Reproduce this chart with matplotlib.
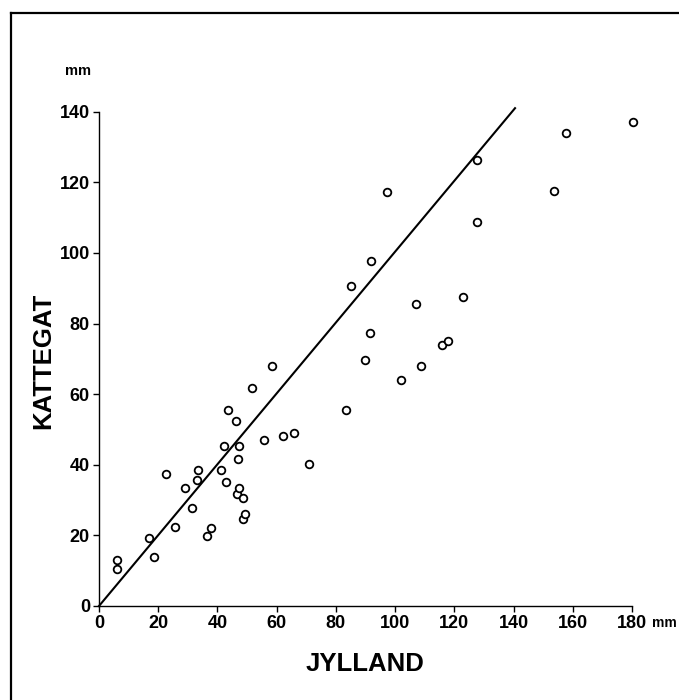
import matplotlib
matplotlib.use("Agg")
import matplotlib.pyplot as plt
from matplotlib.lines import Line2D

# maalinger (mm)
jylland = [6.0, 6.0, 16.8, 18.7, 22.5, 25.6, 29.1, 31.4, 33.0, 33.6, 36.6, 37.9,
           41.2, 42.3, 43.0, 43.4, 46.4, 46.5, 46.9, 47.2, 47.4, 48.7, 48.5, 49.3,
           51.6, 55.7, 58.3, 62.3, 65.9, 70.8, 83.3, 85.1, 89.8, 91.5, 91.7, 97.4,
           102.1, 107.2, 108.8, 115.8, 117.7, 122.8, 127.5, 127.8, 153.5, 157.8, 180.3]
kattegat = [13.0, 10.6, 19.3, 13.9, 37.3, 22.4, 33.4, 27.7, 35.8, 38.6, 19.8, 22.1,
            38.6, 45.4, 35.2, 55.4, 52.5, 31.8, 41.6, 33.5, 45.3, 30.5, 24.6, 26.1,
            61.8, 47.0, 67.9, 48.2, 48.9, 40.2, 55.5, 90.7, 69.7, 77.3, 97.7, 117.2,
            64.1, 85.6, 68.1, 74.0, 75.0, 87.5, 126.2, 108.8, 117.5, 133.9, 137.2]
linje_x = [0, 140.5]
linje_y = [0, 141.0]
xticks = list(range(0, 181, 20))
yticks = list(range(0, 141, 20))

plt.rcParams['font.family'] = ['Liberation Sans', 'DejaVu Sans']
plt.rcParams['font.weight'] = 'bold'

W, H = 679, 700
fig = plt.figure(figsize=(W/100, H/100), dpi=100)
ax = fig.add_axes([99/W, 1-606/H, (632-99)/W, (606-111.7)/H])

ax.plot(linje_x, linje_y, '-', color='black', lw=1.5, clip_on=False)
ax.plot(jylland, kattegat, 'o', mfc='white', mec='black', ms=5.5, mew=1.3, clip_on=False)

ax.set_xlim(0, 180)
ax.set_ylim(0, 140)
ax.set_xticks(xticks)
ax.set_yticks(yticks)
ax.tick_params(labelsize=13, length=4, width=1, pad=2.5)
for lab in ax.get_xticklabels() + ax.get_yticklabels():
    lab.set_fontweight('bold')
for s in ['top', 'right']:
    ax.spines[s].set_visible(False)
for s in ['left', 'bottom']:
    ax.spines[s].set_linewidth(1.0)

ax.set_xlabel("JYLLAND", fontsize=18.5, fontweight='bold', va='center')
ax.xaxis.set_label_coords(0.5, -(664-606)/(606-111.7))
ax.set_ylabel("KATTEGAT", fontsize=18.5, fontweight='bold', va='center')
ax.yaxis.set_label_coords(-(99-43)/(632-99), (606-360.5)/(606-111.7))

fig.text(78/W, 1-71/H, "mm", fontsize=10.5, fontweight='bold', ha='center', va='center')
fig.text(652/W, 1-623/H, "mm", fontsize=10, fontweight='bold', ha='left', va='center')

# ramme
fig.add_artist(Line2D([11/W, 11/W], [0, 1-13/H], color='black', lw=1.6, transform=fig.transFigure))
fig.add_artist(Line2D([11/W, 1], [1-13/H, 1-13/H], color='black', lw=1.6, transform=fig.transFigure))

plt.savefig("out.png", dpi=100)
